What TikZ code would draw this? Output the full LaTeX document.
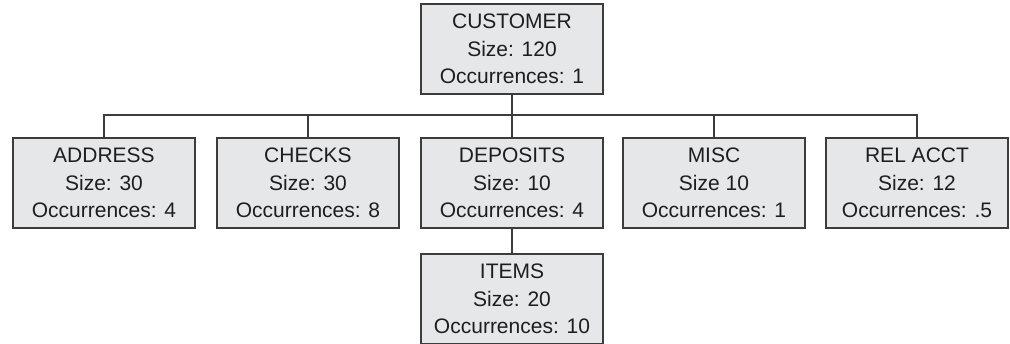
\documentclass[tikz,border=0pt]{standalone}
\usepackage{fontspec}
\setmainfont{Liberation Sans}
\usepackage{tikz}
\definecolor{boxgray}{HTML}{E6E7E8}
\definecolor{edgegray}{HTML}{3C3C3C}
\definecolor{inkgray}{HTML}{1E1E1E}
\tikzset{
  every node/.style={font=\fontsize{21}{27.5}\selectfont, text=inkgray},
  segment/.style={
    rectangle, draw=edgegray, fill=boxgray, line width=1.3pt,
    minimum width=182pt, minimum height=90pt,
    align=center, inner sep=0pt
  },
  link/.style={draw=edgegray, line width=1.3pt},
}
\begin{document}
\begin{tikzpicture}[x=1pt,y=-1pt]
  \useasboundingbox (0,0) rectangle (1010,343);
  \node[segment] (customer) at (512,49) {CUSTOMER\\Size: 120\\Occurrences: 1};
  \node[segment] (address) at (104,183) {ADDRESS\\Size: 30\\Occurrences: 4};
  \node[segment] (checks) at (308,183) {CHECKS\\Size: 30\\Occurrences: 8};
  \node[segment] (deposits) at (512,183) {DEPOSITS\\Size: 10\\Occurrences: 4};
  \node[segment] (misc) at (714,183) {MISC\\Size 10\\Occurrences: 1};
  \node[segment] (relacct) at (917,183) {REL ACCT\\Size: 12\\Occurrences: .5};
  \node[segment] (items) at (512,299) {ITEMS\\Size: 20\\Occurrences: 10};
  \coordinate (bus) at (512,115);
  \draw[link] (customer.south) -- (bus);
  \draw[link] (address.north) -- (address.north |- bus) -- (relacct.north |- bus) -- (relacct.north);
  \foreach \kid in {checks,deposits,misc}
    \draw[link] (\kid.north) -- (\kid.north |- bus);
  \draw[link] (deposits.south) -- (items.north);
\end{tikzpicture}
\end{document}
